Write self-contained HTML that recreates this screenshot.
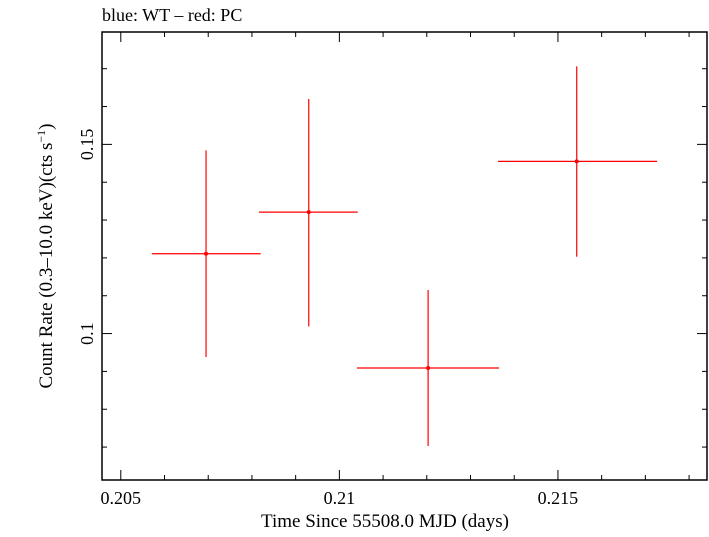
<!DOCTYPE html>
<html><head><meta charset="utf-8"><style>
body{margin:0;background:#fff;}
svg text{font-family:"Liberation Serif",serif;fill:#000;}
</style></head><body>
<svg id="c" width="709" height="532" xmlns="http://www.w3.org/2000/svg">
<text x="102" y="21" font-size="18">blue: WT – red: PC</text>
<text x="385" y="527" font-size="19" text-anchor="middle">Time Since 55508.0 MJD (days)</text>
<text transform="translate(52,256) rotate(-90)" font-size="19" text-anchor="middle">Count Rate (0.3–10.0 keV)(cts s<tspan baseline-shift="super" font-size="12">−1</tspan>)</text>
<g id="ticks"></g>
<g id="marks"></g>
<rect x="102" y="32" width="605" height="448" fill="none" stroke="#000" stroke-width="1.5"/>
</svg>
<script>
const times=[0.20695,0.2093,0.21203,0.21543];
const timeLo=[0.20571,0.20816,0.2104,0.21363];
const timeHi=[0.2082,0.21042,0.21365,0.21727];
const rates=[0.1211,0.1321,0.0909,0.1455];
const rateLo=[0.0938,0.1019,0.0703,0.1203];
const rateHi=[0.1484,0.162,0.1115,0.1706];
const xTicks=[0.205,0.21,0.215];
const xTickLabels=["0.205","0.21","0.215"];
const yTicks=[0.1,0.15];
const yTickLabels=["0.1","0.15"];
const X0=102,X1=707,Y0=480,Y1=32,xmin=0.20457,xmax=0.21841,ymin=0.0613,ymax=0.1797;
const sx=v=>X0+(v-xmin)/(xmax-xmin)*(X1-X0);
const sy=v=>Y0-(v-ymin)/(ymax-ymin)*(Y0-Y1);
const NS="http://www.w3.org/2000/svg";
const tg=document.getElementById('ticks'),mg=document.getElementById('marks');
function ln(g,x1,y1,x2,y2,c,w){const l=document.createElementNS(NS,'line');l.setAttribute('x1',x1);l.setAttribute('y1',y1);l.setAttribute('x2',x2);l.setAttribute('y2',y2);l.setAttribute('stroke',c);l.setAttribute('stroke-width',w);g.appendChild(l);return l;}
for(let i=205;i<=218;i++){const v=i/1000,x=sx(v),maj=i%5==0,L=maj?10:5;
 let a=ln(tg,x,Y0,x,Y0-L,'#000',1);
 
 
 let b=ln(tg,x,Y1,x,Y1+L,'#000',1);
 
 }
for(let i=7;i<=17;i++){const v=i/100,y=sy(v),maj=i%5==0,L=maj?10:5;
 let a=ln(tg,X0,y,X0+L,y,'#000',1);
 
 
 let b=ln(tg,X1,y,X1-L,y,'#000',1);
 
 }
xTicks.forEach((v,i)=>{const t=document.createElementNS(NS,'text');t.setAttribute('x',sx(v));t.setAttribute('y',504);t.setAttribute('font-size','18');t.setAttribute('text-anchor','middle');t.textContent=xTickLabels[i];
 
 
 tg.appendChild(t);});
yTicks.forEach((v,i)=>{const t=document.createElementNS(NS,'text');t.setAttribute('transform',`translate(93,${sy(v)}) rotate(-90)`);t.setAttribute('font-size','18');t.setAttribute('text-anchor','middle');t.textContent=yTickLabels[i];
 
 
 tg.appendChild(t);});
times.forEach((t,i)=>{const g=document.createElementNS(NS,'g');
 
 
 ln(g,sx(timeLo[i]),sy(rates[i]),sx(timeHi[i]),sy(rates[i]),'#f00',1.2);
 ln(g,sx(t),sy(rateLo[i]),sx(t),sy(rateHi[i]),'#f00',1.2);
 const c=document.createElementNS(NS,'circle');c.setAttribute('cx',sx(t));c.setAttribute('cy',sy(rates[i]));c.setAttribute('r',2);c.setAttribute('fill','#f00');g.appendChild(c);
 mg.appendChild(g);});
</script>
</body></html>
